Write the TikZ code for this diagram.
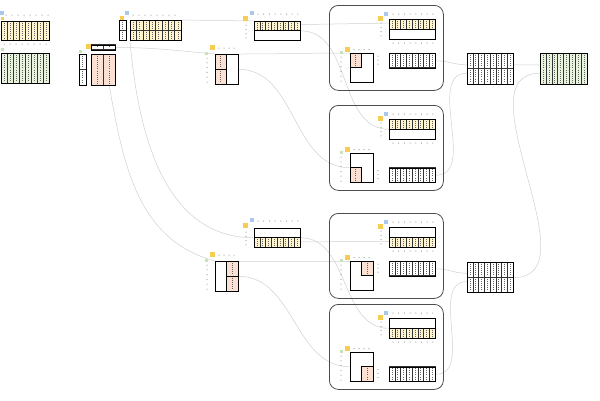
\documentclass[tikz,border=0pt]{standalone}
\usepackage{tikz}
\usetikzlibrary{positioning}
\definecolor{cellYellow}{HTML}{FFF4D0}
\definecolor{cellPink}{HTML}{FBE0D4}
\definecolor{cellGreen}{HTML}{E8F3DD}
\definecolor{tagYellow}{HTML}{F6CD52}
\definecolor{tagBlue}{HTML}{A9C8EC}
\definecolor{tagGreen}{HTML}{C6E4B8}
\definecolor{linkGray}{gray}{0.82}
\pgfdeclarelayer{bg}
\pgfsetlayers{bg,main}

\tikzset{
  frame/.style={draw=black, line width=1pt, inner sep=0pt, anchor=north west},
  thinframe/.style={draw=black, line width=0.6pt, inner sep=0pt, anchor=north west},
  tag/.style={inner sep=0pt, minimum size=4pt, anchor=north west},
  link/.style={draw=linkGray, line width=0.5pt},
  rbox/.style={draw=black!70, line width=0.8pt, rounded corners=9pt, inner sep=0pt, anchor=north west},
  celldots/.style={draw=black!60, line width=0.55pt, dash pattern=on 0.55pt off 1.6pt},
}

% x y w h cols rows fill
\newcommand{\cellgrid}[7]{%
  \foreach \i in {1,...,#5}{\foreach \j in {1,...,#6}{%
    \filldraw[fill=#7, draw=black!80, line width=0.4pt]
      ({#1+(\i-1)*(#3)/(#5)},{#2+(\j-1)*(#4)/(#6)}) rectangle ++({(#3)/(#5)},{(#4)/(#6)});
    \draw[celldots] ({#1+(\i-0.5)*(#3)/(#5)},{#2+(\j-1)*(#4)/(#6)+1.5}) -- ++(0,{(#4)/(#6)-3});
  }}}
% x y n step
\newcommand{\dotrow}[4]{\foreach \m in {1,...,#3}{\fill[black!60] ({#1+(\m-1)*(#4)},{#2}) circle (0.5pt);}}
\newcommand{\dotcol}[4]{\foreach \m in {1,...,#3}{\fill[black!60] ({#1},{#2+(\m-1)*(#4)}) circle (0.5pt);}}

\begin{document}
\begin{tikzpicture}[x=1pt, y=-1pt]
  \useasboundingbox (0,0) rectangle (600,400);

  % inputs, far left
  \node[tag, fill=tagBlue, minimum size=3.5pt] (tag-A-b) at (0,11) {};
  \node[tag, fill=tagYellow, minimum size=3pt] (tag-A-y) at (1,17) {};
  \dotrow{6}{15}{8}{6}
  \cellgrid{1}{21}{48}{19}{8}{1}{cellYellow}
  \node[frame, minimum width=48pt, minimum height=19pt] (A1) at (1,21) {};
  \dotrow{4}{44}{8}{6}
  \node[tag, fill=tagGreen, minimum size=3pt] (tag-A-g) at (1,48) {};
  \cellgrid{1}{53}{48}{30}{8}{1}{cellGreen}
  \node[frame, minimum width=48pt, minimum height=30pt] (A2) at (1,53) {};

  % first split
  \node[tag, fill=tagBlue, minimum size=4pt] (tag-B-b) at (124.5,10.5) {};
  \node[tag, fill=tagYellow, minimum size=4.5pt] (tag-B-y) at (119.5,15.5) {};
  \dotrow{133}{15}{8}{6}
  \cellgrid{119}{20}{7}{20}{1}{2}{white}
  \node[frame, minimum width=7pt, minimum height=20pt] (Bv) at (119,20) {};
  \cellgrid{130}{20}{51}{20}{8}{2}{cellYellow}
  \node[frame, minimum width=51pt, minimum height=20pt] (B1) at (130,20) {};
  \node[tag, fill=tagYellow, minimum size=4.5pt] (tag-B-y2) at (86,44) {};
  \cellgrid{91}{44.5}{24}{5}{2}{1}{white}
  \node[frame, minimum width=24pt, minimum height=5pt] (Bbar) at (91,44.5) {};
  \node[tag, fill=tagGreen, minimum size=3pt] (tag-B-g) at (79,49.5) {};
  \cellgrid{79}{54}{7}{31}{1}{2}{white}
  \node[frame, minimum width=7pt, minimum height=31pt] (Bh) at (79,54) {};
  \cellgrid{91}{54}{24}{31}{2}{1}{cellPink}
  \node[frame, minimum width=24pt, minimum height=31pt] (Bp) at (91,54) {};

  % second split, top (C) and bottom (D)
  \foreach \g/\o/\yh/\px in {C/0/0/0, D/207/1/1}{
    \node[tag, fill=tagBlue, minimum size=4pt] (tag-\g-b) at (249.5,10.5+\o) {};
    \node[tag, fill=tagYellow, minimum size=5pt] (tag-\g-y) at (243,16+\o) {};
    \dotrow{258}{14+\o}{8}{5.7}
    \dotcol{246}{25+\o}{4}{4.3}
    \cellgrid{254}{21+\o+\yh*9.5}{46}{9.5}{8}{1}{cellYellow}
    \draw[line width=1pt] (254,21+\o+\yh*9.5) rectangle ++(46,9.5);
    \node[thinframe, minimum width=46pt, minimum height=19pt] (\g1) at (254,21+\o) {};
    \node[tag, fill=tagYellow, minimum size=5pt] (tag-\g-y2) at (210,45+\o) {};
    \dotrow{219}{48+\o}{4}{5}
    \node[tag, fill=tagGreen, minimum size=3.5pt] (tag-\g-g) at (204.5,51.5+\o) {};
    \dotcol{207}{58+\o}{6}{4.8}
    \cellgrid{215+\px*11.5}{54+\o}{11.5}{30}{1}{2}{cellPink}
    \draw[line width=1pt] (215+\px*11.5,54+\o) rectangle ++(11.5,30)
      (215+\px*11.5,69+\o) -- ++(11.5,0);
    \node[thinframe, minimum width=23pt, minimum height=30pt] (\g2) at (215,54+\o) {};
  }

  % four blocks
  \foreach \k/\t/\yh/\px/\py in {1/5/0/0/0, 2/105/0/0/1, 3/213/1/1/0, 4/304/1/1/1}{
    \node[rbox, minimum width=114pt, minimum height=85pt] (R\k) at (329,\t) {};
    \node[tag, fill=tagBlue, minimum size=4pt] (tag-R\k-b) at (384,\t+6.5) {};
    \node[tag, fill=tagYellow, minimum size=5pt] (tag-R\k-y) at (378,\t+11) {};
    \dotrow{393}{\t+9}{8}{5.7}
    \dotcol{381}{\t+18}{4}{4.3}
    \cellgrid{389}{\t+14+\yh*10}{46}{10}{8}{1}{cellYellow}
    \draw[line width=1pt] (389,\t+14+\yh*10) rectangle ++(46,10);
    \node[thinframe, minimum width=46pt, minimum height=20pt] (Ra\k) at (389,\t+14) {};
    \dotrow{393}{\t+38}{8}{5.7}
    \node[tag, fill=tagYellow, minimum size=5pt] (tag-R\k-y2) at (345,\t+42) {};
    \dotrow{354}{\t+44.5}{4}{5}
    \node[tag, fill=tagGreen, minimum size=3.5pt] (tag-R\k-g) at (339.5,\t+45.5) {};
    \dotcol{341}{\t+52}{6}{4.8}
    \cellgrid{350+\px*11.5}{\t+48+\py*14.5}{11.5}{14.5}{1}{1}{cellPink}
    \draw[line width=1pt] (350+\px*11.5,\t+48+\py*14.5) rectangle ++(11.5,14.5);
    \node[thinframe, minimum width=23pt, minimum height=29pt] (Rb\k) at (350,\t+48) {};
    \dotcol{378}{\t+51+\py*14.5}{3}{4}
    \cellgrid{389}{\t+48+\py*14.5}{46}{14.5}{8}{1}{white}
    \node[frame, minimum width=46pt, minimum height=14.5pt] (Rc\k) at (389,\t+48+\py*14.5) {};
  }

  % partial sums and result
  \cellgrid{467}{53}{46}{31}{8}{2}{white}
  \node[frame, minimum width=46pt, minimum height=31pt] (E1) at (467,53) {};
  \cellgrid{467}{262}{46}{30}{8}{2}{white}
  \node[frame, minimum width=46pt, minimum height=30pt] (E2) at (467,262) {};
  \cellgrid{540}{53}{47}{31}{8}{1}{cellGreen}
  \node[frame, minimum width=47pt, minimum height=31pt] (F) at (540,53) {};

  \begin{pgfonlayer}{bg}
    \fill[white] (0,0) rectangle (600,400);
    \draw[link] (B1.north east) -- (C1.north west);
    \draw[link] (Bbar.east) to[out=0,in=175] (C2.north west);
    \draw[link] (B1.south west) to[out=-85,in=180] (D1.west);
    \draw[link] (Bp.-70) to[out=-80,in=165] (D2.north west);
    \draw[link] (C1.15) -- (Ra1.165);
    \draw[link] (C1.east) to[out=0,in=180] (Ra2.west);
    \draw[link] (C2.north east) to[out=0,in=180] (Rb1.north west);
    \draw[link] (C2.east) to[out=0,in=180] (Rb2.west);
    \draw[link] (D1.-10) -- (Ra3.-170);
    \draw[link] (D1.east) to[out=0,in=180] (Ra4.west);
    \draw[link] (D2.north east) to[out=0,in=180] (Rb3.north west);
    \draw[link] (D2.east) to[out=0,in=180] (Rb4.west);
    \draw[link] (Rc1.east) to[out=0,in=180] (E1.170);
    \draw[link] (Rc2.east) to[out=0,in=180] (E1.190);
    \draw[link] (Rc3.east) to[out=0,in=180] (E2.170);
    \draw[link] (Rc4.east) to[out=0,in=180] (E2.190);
    \draw[link] (E1.170) -- (F.170);
    \draw[link] (E2.east) to[out=0,in=180] (F.190);
  \end{pgfonlayer}
\end{tikzpicture}
\end{document}
